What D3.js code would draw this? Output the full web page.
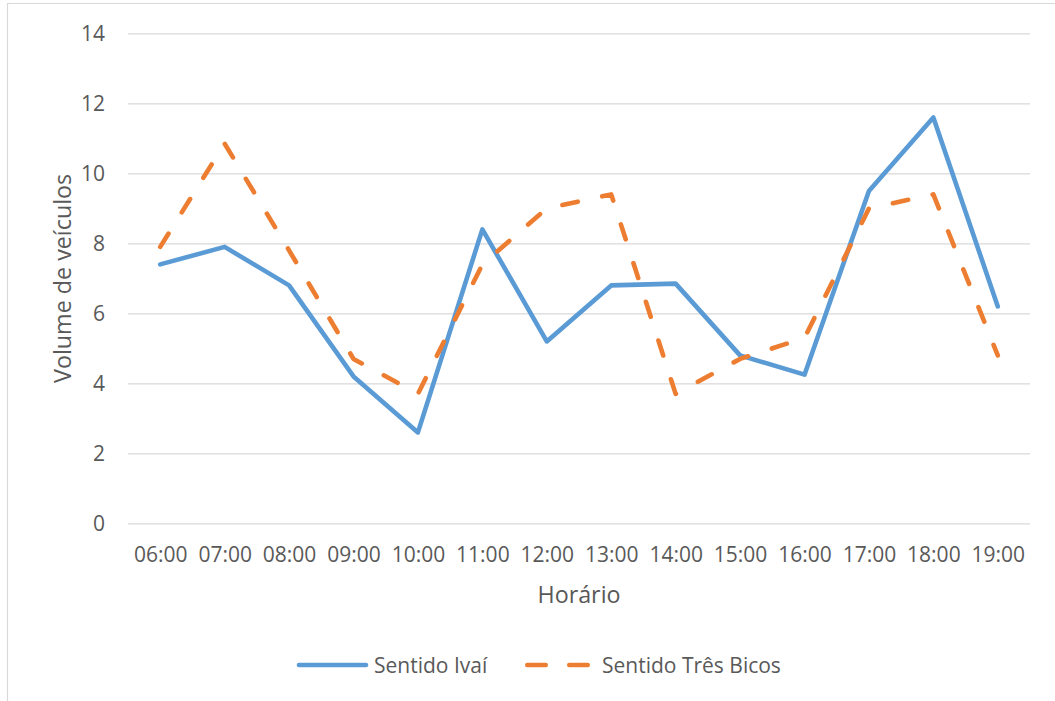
<!DOCTYPE html>
<html>
<head>
<meta charset="utf-8">
<script src="https://cdn.jsdelivr.net/npm/d3@7"></script>
<style>
  html, body { margin: 0; padding: 0; background: #ffffff; }
  svg { display: block; }
  text { font-family: "Open Sans", "Noto Sans", sans-serif; fill: #595959; }
</style>
</head>
<body>
<svg id="chart" width="1055" height="701"></svg>
<script>
// Vehicle counts per hour, both directions
const hours = ["06:00", "07:00", "08:00", "09:00", "10:00", "11:00", "12:00",
               "13:00", "14:00", "15:00", "16:00", "17:00", "18:00", "19:00"];
const sentidoIvai = [7.4, 7.9, 6.8, 4.2, 2.6, 8.4, 5.2, 6.8, 6.85, 4.8, 4.25, 9.5, 11.6, 6.2];
const sentidoTresBicos = [7.9, 10.85, 7.8, 4.7, 3.7, 7.4, 9.0, 9.4, 3.7, 4.7, 5.3, 9.0, 9.4, 4.8];
const yTicks = [0, 2, 4, 6, 8, 10, 12, 14];
const seriesNames = ["Sentido Ivaí", "Sentido Três Bicos"];

const colors = { ivai: "#5B9BD5", tres: "#ED7D31" };
const svg = d3.select("#chart");

// outer frame (left and top edges)
svg.append("path")
  .attr("d", "M7.5,701 V3.5 H1055")
  .attr("fill", "none")
  .attr("stroke", "#d9d9d9")
  .attr("stroke-width", 1.2);

const plot = { left: 128, right: 1030, top: 33.4, bottom: 523.4 };

const x = d3.scalePoint().domain(hours).range([plot.left, plot.right]).padding(0.5);
const y = d3.scaleLinear().domain([0, 14]).range([plot.bottom, plot.top]);

// horizontal gridlines
const yAxis = d3.axisLeft(y).tickValues(yTicks).tickSize(-(plot.right - plot.left)).tickPadding(23);
const gy = svg.append("g").attr("transform", `translate(${plot.left},0)`).call(yAxis);
gy.select(".domain").remove();
gy.selectAll(".tick line").attr("stroke", "#d9d9d9").attr("stroke-width", 1.3);
gy.selectAll(".tick text")
  .attr("font-size", 21).attr("fill", "#595959")
  .attr("font-family", "Open Sans, Noto Sans, sans-serif");

// category axis labels
const xAxis = d3.axisBottom(x).tickSize(0).tickPadding(24);
const gx = svg.append("g").attr("transform", `translate(0,${plot.bottom})`).call(xAxis);
gx.select(".domain").remove();
gx.selectAll(".tick text")
  .attr("font-size", 21).attr("fill", "#595959")
  .attr("font-family", "Open Sans, Noto Sans, sans-serif");

// axis titles
svg.append("text")
  .attr("x", (plot.left + plot.right) / 2).attr("y", 603.3)
  .attr("text-anchor", "middle").attr("font-size", 23.3)
  .text("Horário");

svg.append("text")
  .attr("transform", `translate(70.5,${(plot.top + plot.bottom) / 2}) rotate(-90)`)
  .attr("text-anchor", "middle").attr("font-size", 23.3)
  .text("Volume de veículos");

// series lines
const line = d3.line()
  .x((d, i) => x(hours[i]))
  .y(d => y(d));

svg.append("path")
  .datum(sentidoIvai)
  .attr("d", line)
  .attr("fill", "none")
  .attr("stroke", colors.ivai)
  .attr("stroke-width", 4.6)
  .attr("stroke-linejoin", "round")
  .attr("stroke-linecap", "round");

svg.append("path")
  .datum(sentidoTresBicos)
  .attr("d", line)
  .attr("fill", "none")
  .attr("stroke", colors.tres)
  .attr("stroke-width", 4.6)
  .attr("stroke-linejoin", "round")
  .attr("stroke-linecap", "round")
  .attr("stroke-dasharray", "15.7 25");

// legend
const legend = svg.append("g");
legend.append("line")
  .attr("x1", 299).attr("x2", 366).attr("y1", 665).attr("y2", 665)
  .attr("stroke", colors.ivai).attr("stroke-width", 4.6).attr("stroke-linecap", "round");
legend.append("text")
  .attr("x", 374).attr("y", 673.3).attr("font-size", 21)
  .text(seriesNames[0]);

legend.append("line")
  .attr("x1", 527.3).attr("x2", 587.7).attr("y1", 665).attr("y2", 665)
  .attr("stroke", colors.tres).attr("stroke-width", 4.6).attr("stroke-linecap", "round")
  .attr("stroke-dasharray", "18.4 23.6");
legend.append("text")
  .attr("x", 602).attr("y", 673.3).attr("font-size", 21)
  .text(seriesNames[1]);
</script>
</body>
</html>
